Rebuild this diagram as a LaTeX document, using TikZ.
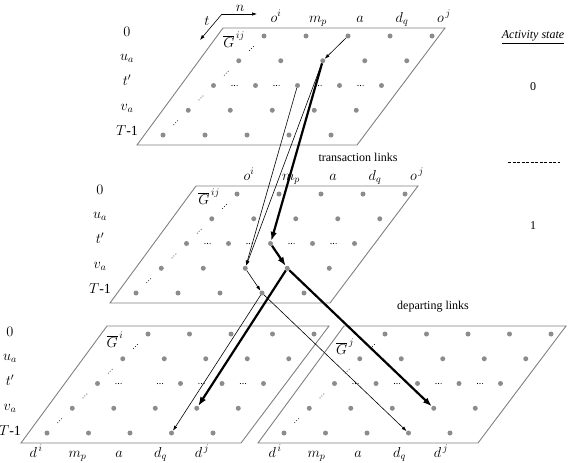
\documentclass[tikz,border=0pt,12pt]{standalone}
\usepackage{amsmath}
\usepackage{fontspec}
\setmainfont{Liberation Serif}
\usepackage{tikz}
\usetikzlibrary{arrows.meta}

\begin{document}
\begin{tikzpicture}[x=1pt,y=-1pt,
		every node/.style={inner sep=0pt},
		dot/.style={circle,fill=gray!90,minimum size=5pt},
		plane/.style={draw=gray,line width=0.9pt},
		lab/.style={font=\fontsize{12}{14}\selectfont},
		mlab/.style={font=\fontsize{14}{16}\selectfont},
		thinlink/.style={-{Latex[length=5pt,width=3.5pt]},line width=0.6pt},
		thicklink/.style={-{Latex[length=9pt,width=6.5pt]},line width=2.2pt}]
	\useasboundingbox (0,0) rectangle (568,463);
	
	% axes
	\coordinate (ax) at (222,14);
	\coordinate (ax-n) at (257,14);
	\coordinate (ax-t) at (200,40);
	\draw[thinlink] (ax) -- (ax-n);
	\draw[thinlink] (ax) -- (ax-t);
	\node[mlab] (n) at (240,8) {$n$};
	\node[mlab] (t) at (207,21) {$t$};
	
	% top plane
	\begin{scope}[shift={(264,36)}]
		\draw[plane] (-41,-8) -- (181,-8) -- (93,109) -- (-127,109) -- cycle;
		\foreach \r in {0,...,4}
			\foreach \c in {0,...,4}
				\node[dot] (T-\r-\c) at (\c*42-\r*25.25,\r*24.75) {};
		% dots in the t' row and along the first column
		\foreach \c in {0,...,3}
			\foreach \k in {-1,0,1}
				\fill (\c*42+21-50.5+\k*2.6,49.5) circle (0.6);
		\foreach \r in {0,...,3}
			\foreach \k in {-1,0,1}
				\fill (-\r*25.25-12.6+\k*1.9,\r*24.75+12.4-\k*1.9) circle (0.5);
		\foreach \r/\s in {0/{$0$},1/{$u_a$},2/{$t'$},3/{$v_a$},4/{$T$-1}}
			\node[mlab,anchor=base] (T-row-\r) at (-137,\r*24.75) {\s};
		\foreach \c/\s in {0/{$o^i$},1/{$m_p$},2/{$a$},3/{$d_q$},4/{$o^{\,j}$}}
			\node[mlab,anchor=base] (T-col-\c) at (\c*42+12,-14) {\s};
		\node[mlab] (T-G) at (-30,4) {$\overline{G}^{\,ij}$};
	\end{scope}
	
	% middle plane
	\begin{scope}[shift={(237,194)}]
		\draw[plane] (-41,-8) -- (181,-8) -- (93,109) -- (-127,109) -- cycle;
		\foreach \r in {0,...,4}
			\foreach \c in {0,...,4}
				\node[dot] (M-\r-\c) at (\c*42-\r*25.25,\r*24.75) {};
		\foreach \c in {0,...,3}
			\foreach \k in {-1,0,1}
				\fill (\c*42+21-50.5+\k*2.6,49.5) circle (0.6);
		\foreach \r in {0,...,3}
			\foreach \k in {-1,0,1}
				\fill (-\r*25.25-12.6+\k*1.9,\r*24.75+12.4-\k*1.9) circle (0.5);
		\foreach \r/\s in {0/{$0$},1/{$u_a$},2/{$t'$},3/{$v_a$},4/{$T$-1}}
			\node[mlab,anchor=base] (M-row-\r) at (-137,\r*24.75) {\s};
		\foreach \c/\s in {0/{$o^i$},1/{$m_p$},2/{$a$},3/{$d_q$},4/{$o^{\,j}$}}
			\node[mlab,anchor=base] (M-col-\c) at (\c*42+12,-14) {\s};
		\node[mlab] (M-G) at (-28,3) {$\overline{G}^{\,ij}$};
	\end{scope}
	
	% bottom left plane
	\begin{scope}[shift={(148,334)}]
		\draw[plane] (-41,-8) -- (181,-8) -- (93,109) -- (-127,109) -- cycle;
		\foreach \r in {0,1,3,4}
			\foreach \c in {0,...,4}
				\node[dot] (L-\r-\c) at (\c*41.5-\r*25.25,\r*24.75) {};
		\foreach \c in {0,2,3,4}
			\node[dot] (L-2-\c) at (\c*41.5-50.5,49.5) {};
		\foreach \c in {0,...,3}
			\foreach \k in {-1,0,1}
				\fill (\c*41.5+21-50.5+\k*2.6,49.5) circle (0.6);
		\foreach \r in {0,...,3}
			\foreach \k in {-1,0,1}
				\fill (-\r*25.25-12.6+\k*1.9,\r*24.75+12.4-\k*1.9) circle (0.5);
		\foreach \r/\s in {0/{$0$},1/{$u_a$},2/{$t'$},3/{$v_a$},4/{$T$-1}}
			\node[mlab,anchor=base] (L-row-\r) at (-138,\r*24.75+2) {\s};
		\foreach \c/\s in {0/{$d^{\,i}$},1/{$m_p$},2/{$a$},3/{$d_q$},4/{$d^{\,j}$}}
			\node[mlab,anchor=base] (L-col-\c) at (\c*41.5-112,123) {\s};
		\node[mlab] (L-G) at (-33,6) {$\overline{G}^{\,i}$};
	\end{scope}
	
	% bottom right plane
	\begin{scope}[shift={(385,334)}]
		\draw[plane] (-41,-8) -- (181,-8) -- (93,109) -- (-127,109) -- cycle;
		\foreach \r in {0,...,4}
			\foreach \c in {0,...,4}
				\node[dot] (R-\r-\c) at (\c*41.5-\r*25.25,\r*24.75) {};
		\foreach \c in {0,...,3}
			\foreach \k in {-1,0,1}
				\fill (\c*41.5+21-50.5+\k*2.6,49.5) circle (0.6);
		\foreach \r in {0,...,3}
			\foreach \k in {-1,0,1}
				\fill (-\r*25.25-12.6+\k*1.9,\r*24.75+12.4-\k*1.9) circle (0.5);
		\foreach \c/\s in {0/{$d^{\,i}$},1/{$m_p$},2/{$a$},3/{$d_q$},4/{$d^{\,j}$}}
			\node[mlab,anchor=base] (R-col-\c) at (\c*41.5-110,123) {\s};
		\node[mlab] (R-G) at (-40,13) {$\overline{G}^{\,j}$};
	\end{scope}
	
	% links
	\draw[thinlink] (T-0-2) -- (T-1-2);
	\draw[thicklink] (T-1-2) -- (M-2-2);
	\draw[thicklink] (M-2-2) -- (M-3-3);
	\draw[thicklink] (M-3-3) -- (L-3-3);
	\draw[thicklink] (M-3-3) -- (R-3-3);
	\draw[thinlink] (T-1-2) -- (M-3-2);
	\draw[thinlink] (T-2-2) -- (M-3-2);
	\draw[thinlink] (M-3-2) -- (M-4-3);
	\draw[thinlink] (M-4-3) -- (L-4-3);
	\draw[thinlink] (M-4-3) -- (R-4-3);
	
	\node[lab] (trans) at (358,157) {transaction links};
	\node[lab] (depart) at (433,307) {departing links};
	
	% activity state
	\node[lab,font=\fontsize{12}{14}\selectfont\itshape] (act) at (533,37) {\underline{Activity state}};
	\node[lab] (act-0) at (533,87) {0};
	\coordinate (dash-a) at (508,162);
	\coordinate (dash-b) at (560,162);
	\draw[dash pattern=on 3pt off 1.5pt,line width=0.6pt] (dash-a) -- (dash-b);
	\node[lab] (act-1) at (533,226) {1};
\end{tikzpicture}
\end{document}
